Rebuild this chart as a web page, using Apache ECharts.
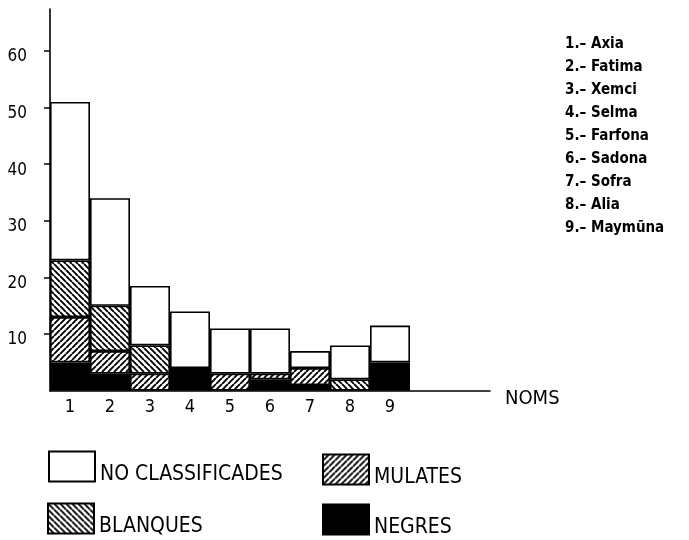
<!DOCTYPE html>
<html>
<head>
<meta charset="utf-8">
<script src="https://cdn.jsdelivr.net/npm/echarts@6/dist/echarts.min.js"></script>
<style>
html,body{margin:0;padding:0;background:#fff;}
#chart{width:689px;height:540px;}
</style>
</head>
<body>
<div id="chart"></div>
<script>
// ---- data ----
const categories = ['1','2','3','4','5','6','7','8','9'];
const negres = [5, 3, 0, 4, 0, 2, 1, 0, 5];
const mulates = [8, 4, 3, 0, 3, 1, 3, 0, 0];
const blanques = [10, 8, 5, 0, 0, 0, 0, 2, 0];
const noClassificades = [28, 19, 10.5, 10, 8, 8, 3, 6, 6.5];
const yTicks = [10, 20, 30, 40, 50, 60];
const names = ['Axia','Fatima','Xemci','Selma','Farfona','Sadona','Sofra','Alia','Maymūna'];
const seriesNames = ['NEGRES','MULATES','BLANQUES','NO CLASSIFICADES'];

const FONT = "'Liberation Sans Narrow','DejaVu Sans Condensed',sans-serif";

function hatch(dir) {
  const s = 6;
  const c = document.createElement('canvas');
  c.width = s; c.height = s;
  const ctx = c.getContext('2d');
  ctx.fillStyle = '#fff';
  ctx.fillRect(0, 0, s, s);
  ctx.strokeStyle = '#000';
  ctx.lineWidth = 1.9;
  ctx.beginPath();
  for (const x0 of [-s, 0, s]) {
    if (dir === '/') { ctx.moveTo(x0, s); ctx.lineTo(x0 + s, 0); }
    else { ctx.moveTo(x0, 0); ctx.lineTo(x0 + s, s); }
  }
  ctx.stroke();
  return { image: c, repeat: 'repeat' };
}

const fills = ['#000', hatch('/'), hatch('\\'), '#fff'];
const values = [negres, mulates, blanques, noClassificades];

const chart = echarts.init(document.getElementById('chart'), null, { renderer: 'canvas' });

const series = values.map((arr, i) => ({
  name: seriesNames[i],
  type: 'bar',
  stack: 'total',
  barCategoryGap: '0%',
  data: arr.map(v => v === 0 ? '-' : v),
  itemStyle: { color: fills[i], borderColor: '#000', borderWidth: 1.6 },
  emphasis: { disabled: true },
  animation: false
}));

const legendPos = {
  'NO CLASSIFICADES': { left: 48, top: 448 },
  'MULATES': { left: 322, top: 451 },
  'BLANQUES': { left: 47, top: 500 },
  'NEGRES': { left: 322, top: 501 }
};

const legends = Object.keys(legendPos).map(n => ({
  data: [n],
  left: legendPos[n].left,
  top: legendPos[n].top,
  padding: 0,
  icon: 'rect',
  itemWidth: 46,
  itemHeight: 30,
  itemGap: 0,
  selectedMode: false,
  formatter: t => '\n' + t,
  textStyle: { fontFamily: FONT, fontSize: 21, lineHeight: 16, color: '#000' }
}));

chart.setOption({
  animation: false,
  backgroundColor: '#fff',
  title: {
    text: names.map((n, i) => (i + 1) + '.– ' + n).join('\n'),
    left: 565,
    top: 33,
    padding: 0,
    textStyle: { fontFamily: FONT, fontSize: 15, fontWeight: 'bold', color: '#000', lineHeight: 23 }
  },
  legend: legends,
  grid: { left: 50, right: 199, top: 9, bottom: 149.3, containLabel: false },
  xAxis: {
    type: 'category',
    data: categories.concat(['', '']),
    axisLine: { lineStyle: { color: '#000', width: 1.6 } },
    axisTick: { show: false },
    axisLabel: { color: '#000', fontFamily: FONT, fontSize: 18, margin: 8 },
    splitLine: { show: false },
    name: 'NOMS',
    nameLocation: 'end',
    nameGap: 15,
    nameTextStyle: { fontFamily: FONT, fontSize: 20, color: '#000', verticalAlign: 'top', lineHeight: 16 }
  },
  yAxis: {
    type: 'value',
    min: 0,
    max: 67.4,
    axisLine: { show: true, lineStyle: { color: '#000', width: 1.6 } },
    axisTick: { show: true, length: 6, customValues: yTicks, lineStyle: { color: '#000', width: 1.5 } },
    axisLabel: { color: '#000', fontFamily: FONT, fontSize: 17, margin: 23, customValues: yTicks, verticalAlign: 'top', lineHeight: 12 },
    splitLine: { show: false }
  },
  series: series
});
</script>
</body>
</html>
